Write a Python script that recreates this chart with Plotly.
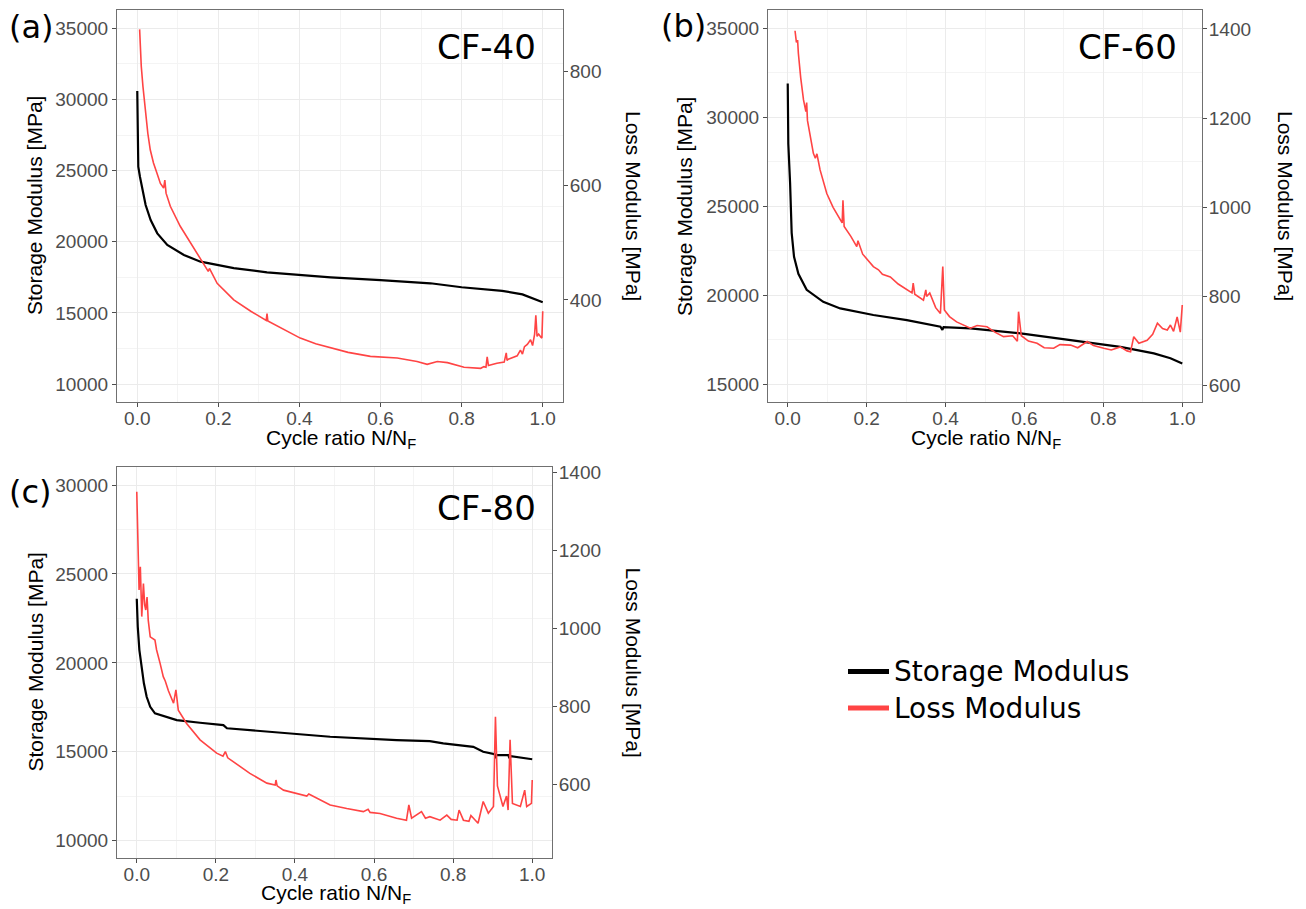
import plotly.graph_objects as go

# ---------------- data ----------------
A_STOR_X = [0, 0.0025, 0.0066, 0.0123, 0.0206, 0.033, 0.0494, 0.074, 0.115, 0.156, 0.238, 0.32, 0.40, 0.477,
            0.6, 0.723, 0.8, 0.9, 0.95, 1.0]
A_STOR_Y = [30600, 25270, 24570, 23640, 22580, 21530, 20590, 19770, 19070, 18600, 18150, 17850, 17650, 17500,
            17300, 17080, 16800, 16550, 16300, 15750]

A_LOSS_X = [0.0058, 0.0074, 0.0099, 0.014, 0.0173, 0.0214, 0.026, 0.032, 0.040, 0.0486, 0.057, 0.065, 0.068,
            0.071, 0.0815, 0.106, 0.156, 0.175, 0.178, 0.197,
            0.238, 0.28, 0.318, 0.32, 0.322, 0.361, 0.402, 0.44, 0.477, 0.52, 0.575, 0.641, 0.69, 0.715, 0.74,
            0.765, 0.806, 0.847, 0.855, 0.86, 0.863, 0.866, 0.887, 0.905, 0.91, 0.912, 0.915, 0.937, 0.945, 0.95,
            0.955, 0.962, 0.97, 0.975, 0.98, 0.983, 0.986, 0.99, 0.995, 0.998, 1.0]
A_LOSS_Y = [874, 838, 809, 774, 750, 721, 692, 663, 640, 622, 604, 596, 610, 587, 564, 529, 470, 450, 455, 429,
            400, 380, 364, 376, 363, 348, 333, 323, 316, 308, 301, 298, 292, 287, 292,
            290, 282, 280, 283, 282, 300, 285, 289, 291, 307, 294, 296, 302, 312, 305,
            318, 322, 330, 320, 340, 373, 336, 340, 335, 333, 380]

B_STOR_X = [0, 0.0015, 0.006, 0.01, 0.016, 0.027, 0.048, 0.09, 0.133, 0.217, 0.302, 0.344, 0.387, 0.392,
            0.395, 0.463, 0.59, 0.717, 0.843, 0.928, 0.97, 1.0]
B_STOR_Y = [31900, 28500, 26300, 23500, 22150, 21200, 20300, 19620, 19250, 18880, 18590, 18410, 18220, 18050,
            18200, 18130, 17850, 17470, 17090, 16720, 16450, 16150]

B_LOSS_X = [0.0185, 0.022, 0.025, 0.027, 0.033, 0.04, 0.046, 0.048, 0.05, 0.058, 0.065, 0.07, 0.074, 0.082,
            0.09, 0.099, 0.115, 0.133, 0.138, 0.14, 0.143, 0.16, 0.175, 0.178, 0.19, 0.217, 0.23, 0.24, 0.26,
            0.28, 0.302, 0.315, 0.318, 0.322, 0.344, 0.35, 0.352, 0.36, 0.375, 0.387, 0.393, 0.397, 0.41, 0.428,
            0.463, 0.48, 0.505, 0.525, 0.547, 0.57, 0.582, 0.585, 0.592, 0.61, 0.632, 0.65, 0.674, 0.69, 0.717,
            0.735, 0.759, 0.775, 0.801, 0.82, 0.843, 0.86, 0.869, 0.877, 0.89, 0.911, 0.925, 0.937, 0.95, 0.962,
            0.97, 0.978, 0.987, 0.995, 1.0]
B_LOSS_Y = [1396, 1370, 1375, 1345, 1290, 1241, 1215, 1235, 1195, 1150, 1121, 1110, 1120, 1084,
            1060, 1031, 1000, 972, 965, 1016, 957, 935, 912, 925, 895, 867, 860, 850, 844,
            828, 815, 808, 830, 805, 792, 815, 800, 808, 775, 762, 867, 770, 755, 743,
            729, 735, 732, 720, 710, 712, 700, 766, 712, 700, 695, 685, 684, 692, 691,
            685, 699, 690, 684, 680, 687, 678, 676, 710, 695, 702, 715, 740, 728, 725,
            736, 722, 754, 720, 781]

C_STOR_X = [0, 0.0025, 0.0066, 0.0126, 0.018, 0.025, 0.034, 0.046, 0.076, 0.101, 0.16, 0.219, 0.228, 0.286,
            0.37, 0.489, 0.657, 0.741, 0.775, 0.851, 0.876, 0.905, 0.907, 0.909, 0.94, 0.942, 0.946, 1.0]
C_STOR_Y = [23600, 22030, 20720, 19780, 18850, 18090, 17530, 17160, 16970, 16780, 16630, 16500, 16320, 16220,
            16035, 15845, 15660, 15600, 15470, 15280, 15000, 14870, 14640, 14810, 14810, 14640, 14750, 14580]

C_LOSS_X = [0, 0.0025, 0.0058, 0.009, 0.0126, 0.0168, 0.02, 0.0227, 0.026, 0.029, 0.034, 0.046, 0.05, 0.059,
            0.067, 0.072, 0.08, 0.093, 0.099, 0.105, 0.126, 0.16, 0.202, 0.218, 0.224, 0.23, 0.244, 0.286,
            0.329, 0.35, 0.352, 0.355, 0.371, 0.413, 0.43, 0.435, 0.455, 0.489, 0.531, 0.573, 0.585, 0.59,
            0.615, 0.657, 0.682, 0.688, 0.695, 0.72, 0.73, 0.741, 0.767, 0.784, 0.795, 0.81, 0.815, 0.826,
            0.84, 0.845, 0.863, 0.876, 0.889, 0.902, 0.907, 0.912, 0.926, 0.935, 0.939, 0.944, 0.95, 0.97,
            0.981, 0.986, 0.998, 1.0]
C_LOSS_Y = [1350, 1200, 1098, 1158, 1030, 1115, 1060, 1047, 1080, 1021, 978, 970, 945, 910,
            876, 865, 840, 808, 842, 790, 756, 714, 680, 672, 684, 668, 658, 628,
            603, 598, 611, 596, 585, 573, 570, 575, 564, 547, 538, 530, 536, 528,
            525, 513, 508, 547, 513, 530, 513, 517, 508, 521, 510, 508, 534, 508,
            505, 520, 500, 556, 526, 543, 773, 596, 543, 570, 534, 714, 551, 543,
            585, 543, 551, 611]

PANEL_LABELS = ["(a)", "(b)", "(c)"]
PANEL_NAMES = ["CF-40", "CF-60", "CF-80"]
SERIES_NAMES = ["Storage Modulus", "Loss Modulus"]
X_TICKS = [0.0, 0.2, 0.4, 0.6, 0.8, 1.0]

# ---------------- layout geometry (page pixels) ----------------
PAGE_W, PAGE_H = 1306, 909
OFF = 8                          # default body margin of the html page
W, H = PAGE_W - OFF, PAGE_H - OFF


def fx(px):
    return (px - OFF) / W


def fy(py):
    return 1 - (py - OFF) / H


BLACK = "#000000"
RED = "#FF4444"
GRID = "#EBEBEB"
GRID_MINOR = "#F4F4F4"
BORDER = "#707070"
TICKCOL = "#4D4D4D"
TICKFONT = dict(family="Liberation Sans, Arial", size=19, color=TICKCOL)
TITLEFONT = dict(family="Liberation Sans, Arial", size=21, color="#000000")

panels = [
    dict(px=(117, 563), py=(10, 402), ly=(8735, 36290), ry=(221, 908),
         sx=A_STOR_X, sy=A_STOR_Y, lx=A_LOSS_X, lyv=A_LOSS_Y, ltx=35, rtx=633, xty=439,
         lab=(7, 27), name=(538, 47)),
    dict(px=(768, 1202), py=(10, 402), ly=(13990, 36030), ry=(563.4, 1442.6),
         sx=B_STOR_X, sy=B_STOR_Y, lx=B_LOSS_X, lyv=B_LOSS_Y, ltx=685, rtx=1285, xty=439,
         lab=(659, 26), name=(1179, 47)),
    dict(px=(117, 552), py=(467.3, 857.7), ly=(9044, 30995), ry=(411.8, 1412.8),
         sx=C_STOR_X, sy=C_STOR_Y, lx=C_LOSS_X, lyv=C_LOSS_Y, ltx=35, rtx=633, xty=894,
         lab=(7, 492), name=(538, 508)),
]

fig = go.Figure()
annotations = []
shapes = []

for i, p in enumerate(panels):
    xa = "x" if i == 0 else f"x{i+1}"
    yl = "y" if i == 0 else f"y{2*i+1}"
    yr = f"y{2*i+2}"
    xkey = "xaxis" if i == 0 else f"xaxis{i+1}"
    ylkey = "yaxis" if i == 0 else f"yaxis{2*i+1}"
    yrkey = f"yaxis{2*i+2}"

    fig.add_trace(go.Scatter(x=p["lx"], y=p["lyv"], mode="lines", xaxis=xa, yaxis=yr,
                             line=dict(color=RED, width=1.6), name=SERIES_NAMES[1], showlegend=False))
    fig.add_trace(go.Scatter(x=p["sx"], y=p["sy"], mode="lines", xaxis=xa, yaxis=yl,
                             line=dict(color=BLACK, width=2.2), name=SERIES_NAMES[0], showlegend=False))

    xd = [fx(p["px"][0]), fx(p["px"][1])]
    yd = [fy(p["py"][1]), fy(p["py"][0])]

    fig.layout[xkey] = dict(domain=xd, range=[-0.05, 1.05], anchor=yl, automargin=False,
                            tickvals=X_TICKS, ticktext=[f"{v:.1f}" for v in X_TICKS],
                            showgrid=True, gridcolor=GRID, gridwidth=1,
                            minor=dict(dtick=0.1, tick0=0, showgrid=True, gridcolor=GRID_MINOR, gridwidth=0.7),
                            showline=True, linecolor=BORDER, linewidth=1.2, mirror=True,
                            ticks="outside", ticklen=4, tickcolor=TICKCOL, tickfont=TICKFONT,
                            ticklabelstandoff=-5, zeroline=False)
    fig.layout[ylkey] = dict(domain=yd, range=list(p["ly"]), anchor=xa, side="left", automargin=False,
                             dtick=5000, tick0=0, tickformat="d",
                             showgrid=True, gridcolor=GRID, gridwidth=1,
                             minor=dict(dtick=2500, tick0=0, showgrid=True, gridcolor=GRID_MINOR, gridwidth=0.7),
                             showline=True, linecolor=BORDER, linewidth=1.2, mirror=True,
                             ticks="outside", ticklen=4, tickcolor=TICKCOL, tickfont=TICKFONT,
                             zeroline=False)
    fig.layout[yrkey] = dict(range=list(p["ry"]), overlaying=yl, anchor=xa, side="right", automargin=False,
                             dtick=200, tick0=0, tickformat="d", showgrid=False,
                             showline=False, ticks="outside", ticklen=4, tickcolor=TICKCOL,
                             tickfont=TICKFONT, ticklabelstandoff=-2, zeroline=False)

    cx = (p["px"][0] + p["px"][1]) / 2
    cy = (p["py"][0] + p["py"][1]) / 2
    annotations.append(dict(text="Storage Modulus [MPa]", x=fx(p["ltx"]), y=fy(cy),
                            xref="paper", yref="paper", textangle=-90, showarrow=False,
                            font=TITLEFONT, xanchor="center", yanchor="middle"))
    annotations.append(dict(text="Loss Modulus [MPa]", x=fx(p["rtx"]), y=fy(cy),
                            xref="paper", yref="paper", textangle=90, showarrow=False,
                            font=TITLEFONT, xanchor="center", yanchor="middle"))
    annotations.append(dict(text="Cycle ratio N/N<sub>F</sub>", x=fx(cx + 1), y=fy(p["xty"]),
                            xref="paper", yref="paper", showarrow=False,
                            font=TITLEFONT, xanchor="center", yanchor="middle"))
    annotations.append(dict(text=PANEL_LABELS[i], x=fx(p["lab"][0]), y=fy(p["lab"][1]),
                            xref="paper", yref="paper", showarrow=False,
                            font=dict(family="DejaVu Sans", size=32, color="#000000"),
                            xanchor="left", yanchor="middle"))
    annotations.append(dict(text=PANEL_NAMES[i], x=fx(p["name"][0]), y=fy(p["name"][1]),
                            xref="paper", yref="paper", showarrow=False,
                            font=dict(family="DejaVu Sans", size=34, color="#000000"),
                            xanchor="right", yanchor="middle"))

# legend drawn manually (black / red keys)
for name, col, yy in [(SERIES_NAMES[0], BLACK, 671.5), (SERIES_NAMES[1], RED, 708)]:
    shapes.append(dict(type="line", xref="paper", yref="paper", x0=fx(848), x1=fx(889),
                       y0=fy(yy), y1=fy(yy), line=dict(color=col, width=5)))
    annotations.append(dict(text=name, x=fx(892), y=fy(yy), xref="paper", yref="paper",
                            showarrow=False, xanchor="left", yanchor="middle",
                            font=dict(family="DejaVu Sans", size=28, color="#000000")))

fig.update_layout(width=W, height=H, margin=dict(l=0, r=0, t=0, b=0),
                  paper_bgcolor="white", plot_bgcolor="white",
                  annotations=annotations, shapes=shapes, showlegend=False)

fig.write_html("out.html")
